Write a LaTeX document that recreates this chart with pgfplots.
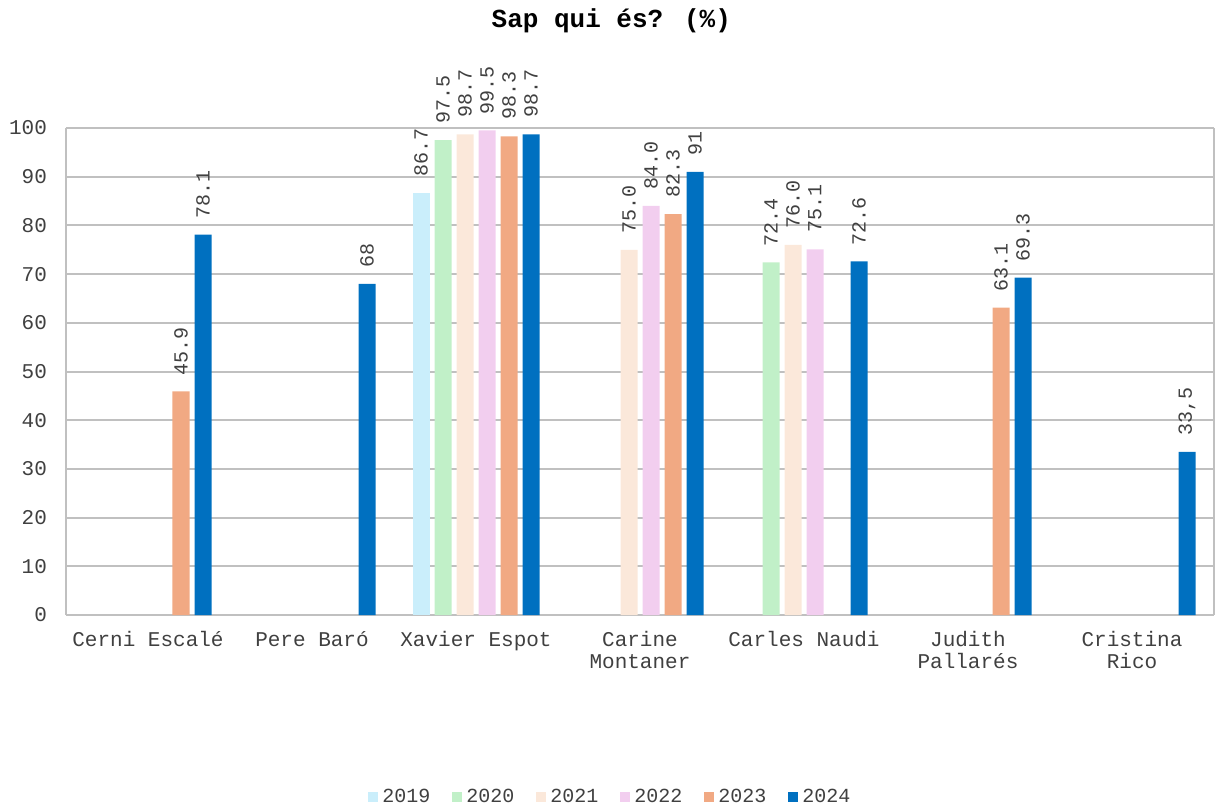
\documentclass[border=0pt]{standalone}
\usepackage{fontspec}
\setmainfont{Liberation Mono}
\usepackage{pgfplots}
\pgfplotsset{compat=1.18}
\definecolor{c19}{HTML}{CAEEFB}
\definecolor{c20}{HTML}{C1F0C8}
\definecolor{c21}{HTML}{FBE8DA}
\definecolor{c22}{HTML}{F2CEEF}
\definecolor{c23}{HTML}{F1A983}
\definecolor{c24}{HTML}{0070C0}
\definecolor{gridc}{HTML}{C0C0C0}
\definecolor{txt}{HTML}{404040}
\begin{document}
\begin{tikzpicture}
\path[use as bounding box] (0,0) rectangle (609.5pt,402.5pt);
\begin{axis}[
  at={(33pt,95pt)}, anchor=south west,
  scale only axis, width=574pt, height=243.5pt,
  ybar=2.5pt, bar width=8.5pt,
  xmin=-0.5, xmax=6.5, ymin=0, ymax=100,
  ytick={0,10,...,100},
  xtick={0,...,6},
  xticklabels={Cerni Escalé,Pere Baró,Xavier Espot,Carine\\Montaner,Carles Naudi,Judith\\Pallarés,Cristina\\Rico},
  xticklabel style={align=center, font=\fontsize{10.5}{11}\selectfont, text=txt, yshift=-4.5pt},
  yticklabel style={font=\fontsize{10.5}{11}\selectfont, text=txt, xshift=-6pt},
  /pgf/number format/assume math mode=true,
  major tick length=0pt,
  ymajorgrids, grid style={gridc, line width=1pt},
  axis line style={gridc, line width=1pt},
  axis x line*=bottom,
  title={\bfseries Sap qui és? (\%)},
  title style={at={(0.475,1.195)}, anchor=center, font=\fontsize{13}{14}\selectfont},
  legend columns=6,
  legend style={at={(0.475,-0.374)}, anchor=center, draw=none, font=\fontsize{10}{11}\selectfont, text=txt,
    /tikz/every even column/.append style={column sep=9pt}},
  legend image code/.code={\fill[#1] (0pt,-2.5pt) rectangle (5pt,2.5pt);},
  point meta=explicit symbolic,
  nodes near coords,
  every node near coord/.append style={rotate=90, anchor=west, font=\fontsize{10}{11}\selectfont, text=txt, inner xsep=8pt, inner ysep=1pt},
]
\addplot[fill=c19, draw=none] coordinates {(2,86.7) [86.7]};
\addplot[fill=c20, draw=none] coordinates {(2,97.5) [97.5] (4,72.4) [72.4]};
\addplot[fill=c21, draw=none] coordinates {(2,98.7) [98.7] (3,75.0) [75.0] (4,76.0) [76.0]};
\addplot[fill=c22, draw=none] coordinates {(2,99.5) [99.5] (3,84.0) [84.0] (4,75.1) [75.1]};
\addplot[fill=c23, draw=none] coordinates {(0,45.9) [45.9] (2,98.3) [98.3] (3,82.3) [82.3] (5,63.1) [63.1]};
\addplot[fill=c24, draw=none] coordinates {(0,78.1) [78.1] (1,68) [68] (2,98.7) [98.7] (3,91) [91] (4,72.6) [72.6] (5,69.3) [69.3] (6,33.5) [{33,5}]};
\legend{2019,2020,2021,2022,2023,2024}
\end{axis}
\end{tikzpicture}
\end{document}
